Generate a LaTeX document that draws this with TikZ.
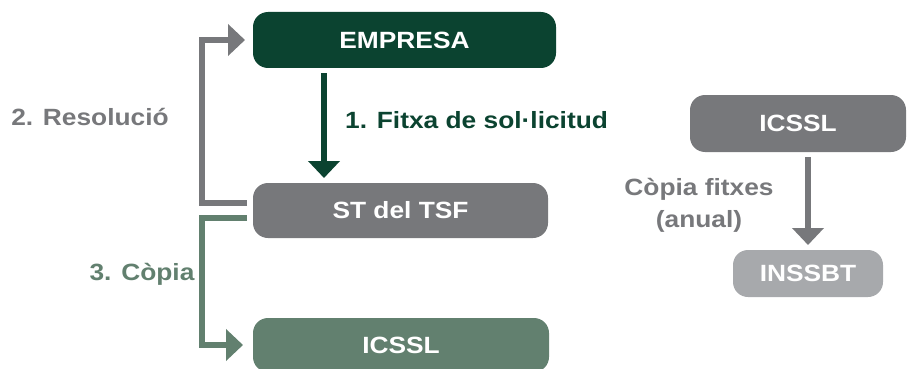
\documentclass[tikz,border=0pt]{standalone}
\usepackage{fontspec}
\setmainfont[FakeStretch=1.12]{Liberation Sans}
\usetikzlibrary{arrows.meta}
\definecolor{dkgreen}{HTML}{0B4330}
\definecolor{midgray}{HTML}{77787B}
\definecolor{sgreen}{HTML}{62806F}
\definecolor{ltgray}{HTML}{A7A9AC}
\tikzset{
  box/.style={rounded corners=15pt, text=white, font=\fontsize{23.5}{28}\selectfont\bfseries, inner sep=0pt, outer sep=0pt},
  lbl/.style={font=\fontsize{23.5}{32}\selectfont\bfseries, inner sep=0pt},
  conn/.style={line width=6pt, -{Triangle[length=17pt,width=31pt]}},
}
\begin{document}
\begin{tikzpicture}[x=1pt,y=-1pt]
\useasboundingbox (0,0) rectangle (907,369);
\node[box, fill=dkgreen, minimum width=303pt, minimum height=56pt] (emp) at (404.5,40) {EMPRESA};
\node[box, fill=midgray, minimum width=295pt, minimum height=55pt] (st) at (400.5,210.5) {ST del TSF};
\node[box, fill=sgreen, minimum width=296pt, minimum height=54pt] (icb) at (401,345) {ICSSL};
\node[box, fill=midgray, minimum width=216pt, minimum height=57pt] (icr) at (798,123.5) {ICSSL};
\node[box, fill=ltgray, minimum width=150pt, minimum height=47pt] (ins) at (808,273.5) {INSSBT};
\draw[conn, dkgreen, shorten <=5pt, shorten >=5pt] (emp.south -| 324,0) -- (st.north -| 324,0);
\draw[conn, midgray] ([shift={(-6pt,7.5pt)}]st.west) -- ++(-45,0) |- ([xshift=-8pt]emp.west);
\draw[conn, sgreen] ([shift={(-6pt,-7.5pt)}]st.west) -- ++(-45,0) |- ([xshift=-10pt]icb.west);
\draw[conn, midgray, shorten <=5pt, shorten >=5pt] (ins.north |- icr.south) -- (ins.north);
\node[lbl, text=midgray] (l2) at (90,117) {2. Resolució};
\node[lbl, text=dkgreen, anchor=west] (l1) at (345,120) {1. Fitxa de sol·licitud};
\node[lbl, text=sgreen] (l3) at (142,274) {3. Còpia};
\node[lbl, text=midgray, align=center] (l4) at (699,205) {Còpia fitxes\\(anual)};
\end{tikzpicture}
\end{document}
